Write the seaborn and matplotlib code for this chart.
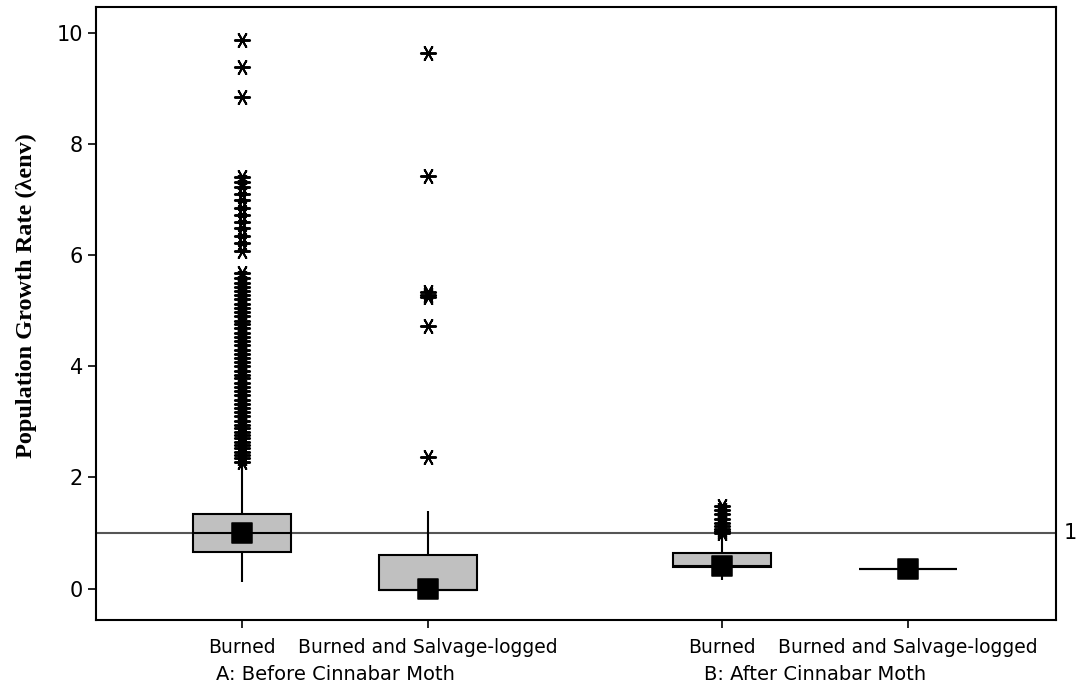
import numpy as np
import pandas as pd
import matplotlib
matplotlib.use("Agg")
import matplotlib.pyplot as plt
import matplotlib.transforms as mtransforms
import seaborn as sns

# positions on the x axis (two groups of two treatments)
positions = [0.0, 1.0, 2.58, 3.58]
tick_labels = ["Burned", "Burned and Salvage-logged", "Burned", "Burned and Salvage-logged"]
group_labels = ["A: Before Cinnabar Moth", "B: After Cinnabar Moth"]
group_centers = [0.5, 3.08]

# box summaries
box_low = [0.12, -0.02, 0.15, 0.35]
box_q1 = [0.66, -0.02, 0.38, 0.35]
box_median = [1.00, -0.02, 0.40, 0.35]
box_q3 = [1.35, 0.60, 0.64, 0.35]
box_high = [2.25, 1.40, 0.95, 0.35]
means = [1.00, -0.01, 0.41, 0.35]

# outliers
out_burned_before = [9.87, 9.38, 8.85, 7.40, 7.32, 7.22, 7.10, 6.98, 6.85, 6.72,
                     6.60, 6.48, 6.35, 6.22, 6.08, 5.68, 5.58, 5.50, 5.42, 5.35,
                     5.28, 5.20, 5.12, 5.05, 4.98, 4.90, 4.82, 4.75, 4.68, 4.60,
                     4.52, 4.45, 4.38, 4.30, 4.22, 4.15, 4.08, 4.00, 3.92, 3.85,
                     3.78, 3.70, 3.62, 3.55, 3.48, 3.40, 3.32, 3.25, 3.18, 3.10,
                     3.02, 2.95, 2.88, 2.82, 2.76, 2.70, 2.64, 2.58, 2.52, 2.46,
                     2.40, 2.34, 2.28]
out_salvage_before = [9.63, 7.42, 5.33, 5.28, 5.24, 4.72, 2.37]
out_burned_after = [1.48, 1.42, 1.35, 1.26, 1.18, 1.12, 1.08, 1.04, 1.00]
out_salvage_after = []

sns.set_style("ticks")
plt.rcParams['font.family'] = ['DejaVu Sans']
plt.rcParams['text.color'] = 'black'
plt.rcParams['xtick.color'] = 'black'
plt.rcParams['ytick.color'] = 'black'
plt.rcParams['axes.labelcolor'] = 'black'

box_df = pd.DataFrame({
    "pos": np.repeat(positions, 5),
    "val": np.ravel(np.column_stack([box_low, box_q1, box_median, box_q3, box_high])),
})

out_df = pd.DataFrame({
    "pos": [positions[0]] * len(out_burned_before) + [positions[1]] * len(out_salvage_before)
           + [positions[2]] * len(out_burned_after) + [positions[3]] * len(out_salvage_after),
    "val": out_burned_before + out_salvage_before + out_burned_after + out_salvage_after,
})

fig = plt.figure(figsize=(10.8, 6.88), dpi=100)
ax = fig.add_axes([96 / 1080, 1 - 620 / 688, (1056 - 96) / 1080, (620 - 7) / 688])

# reference line at lambda = 1
ax.axhline(1, color="#555555", lw=1.5, zorder=1)

sns.boxplot(data=box_df, x="pos", y="val", native_scale=True, width=0.53,
            whis=(0, 100), showfliers=False, showcaps=False, color="#C0C0C0",
            saturation=1, linecolor="black", linewidth=1.5, ax=ax, zorder=2)

sns.scatterplot(data=out_df, x="pos", y="val", marker=(6, 2, 30), s=120,
                color="black", linewidth=1.4, ax=ax, zorder=3)
sns.scatterplot(x=positions, y=means, marker="s", s=190, color="black",
                edgecolor="black", ax=ax, zorder=4)

ax.set_xlim(-0.785, 4.376)
ax.set_ylim(-0.565, 10.46)
ax.set_yticks([0, 2, 4, 6, 8, 10])
ax.set_xticks(positions)
ax.set_xticklabels(tick_labels, fontsize=13.5)
ax.tick_params(axis="y", labelsize=15, length=6, width=1.2, direction="out")
ax.tick_params(axis="x", length=6, width=1.2, pad=7, direction="out")
ax.set_xlabel("")
ax.set_ylabel("Population Growth Rate (λenv)", family=["Liberation Serif", "DejaVu Serif"],
              fontweight="bold", fontsize=17.5)
ax.yaxis.set_label_coords(-0.061, 0.53)

for sp in ax.spines.values():
    sp.set_visible(True)
    sp.set_linewidth(1.5)
    sp.set_color("black")

trans = mtransforms.blended_transform_factory(ax.transData, fig.transFigure)
for gx, gl in zip(group_centers, group_labels):
    ax.text(gx, 1 - 674 / 688, gl, transform=trans, ha="center", va="center", fontsize=14)

trans_r = mtransforms.blended_transform_factory(fig.transFigure, ax.transData)
ax.text(1070 / 1080, 1, "1", transform=trans_r, ha="center", va="center", fontsize=15)

fig.savefig("out.png", dpi=100)
